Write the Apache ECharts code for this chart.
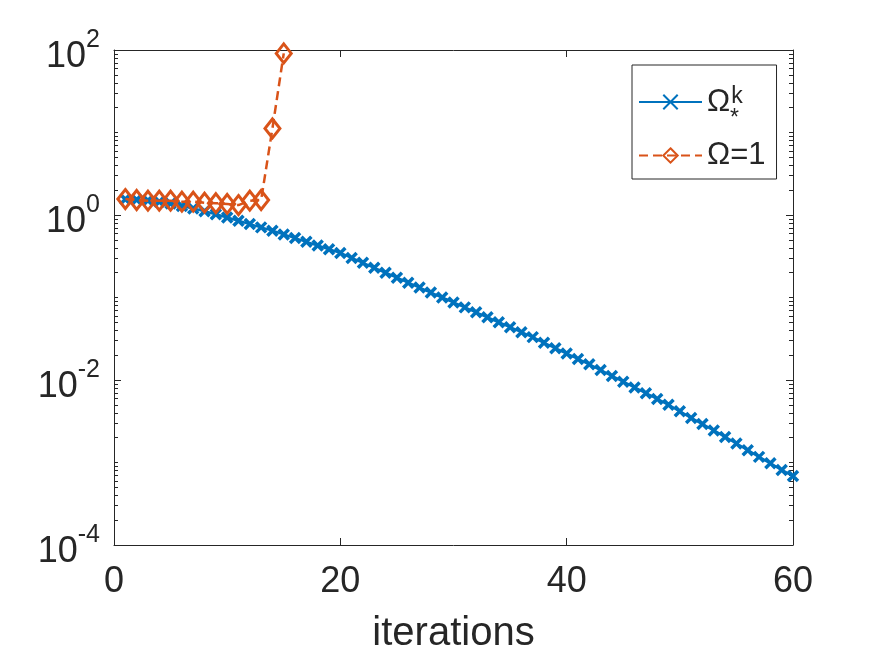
<!DOCTYPE html>
<html>
<head>
<meta charset="utf-8">
<script src="https://cdn.jsdelivr.net/npm/echarts@6/dist/echarts.min.js"></script>
<style>
  html, body { margin: 0; padding: 0; background: #fff; }
  #chart { width: 875px; height: 659px; }
</style>
</head>
<body>
<div id="chart"></div>
<script>
// iterations k = 1..60
var iters = []
for (var i = 1; i <= 60; i++) iters.push(i)

// Omega_*^k
var optVals = [
  1.549, 1.531, 1.496, 1.445, 1.380, 1.288, 1.202, 1.109, 1.023, 0.933,
  0.851, 0.776, 0.708, 0.646, 0.582, 0.525, 0.473, 0.427, 0.385, 0.347,
  0.302, 0.263, 0.229, 0.1995, 0.1738, 0.1514, 0.1318, 0.1148, 0.100, 0.0871,
  0.0759, 0.0661, 0.0575, 0.0501, 0.0437, 0.0380, 0.0331, 0.0282, 0.0243, 0.0209,
  0.0180, 0.0155, 0.0132, 0.0112, 0.00955, 0.00813, 0.00692, 0.00589, 0.00501, 0.00417,
  0.00347, 0.00292, 0.00245, 0.00204, 0.00170, 0.00141, 0.00117, 0.000977, 0.000813, 0.000684
]

// Omega = 1 (diverges)
var oneVals = [
  1.56, 1.52, 1.49, 1.49, 1.49, 1.45, 1.45, 1.41, 1.39, 1.36,
  1.32, 1.49, 1.52, 11.2, 91
]

var xTicks = [0, 20, 40, 60]
var yMajor = [1e-4, 1e-2, 1, 1e2]
var yMinor = []
for (var e = -4; e < 2; e++) {
  for (var m = 1; m <= 9; m++) yMinor.push(m * Math.pow(10, e))
}
yMinor.push(100)

var font = 'Liberation Sans, Arial, Helvetica, sans-serif'
var ink = '#262626'
var blue = '#0072BD'
var red = '#D95319'

var chart = echarts.init(document.getElementById('chart'))

function yAx(pos, ticks, len, labels, line) {
  return {
    type: 'log',
    logBase: 10,
    min: 1e-4,
    max: 1e2,
    position: pos,
    axisLine: { show: line, lineStyle: { color: ink, width: 1 } },
    axisTick: { show: true, inside: true, length: len, customValues: ticks, lineStyle: { color: ink, width: 1 } },
    splitLine: { show: false },
    axisLabel: labels ? {
      show: true,
      customValues: yMajor,
      margin: 14,
      formatter: function (v) {
        var p = Math.round(Math.log(v) / Math.LN10)
        return '{b|10}{e|' + p + '}'
      },
      rich: {
        b: { fontSize: 36, fontFamily: font, color: ink, padding: [15, 0, 0, 0] },
        e: { fontSize: 25, fontFamily: font, color: ink, padding: [0, 0, 19, 0] }
      }
    } : { show: false }
  }
}

function xAx(pos, labels) {
  return {
    type: 'value',
    min: 0,
    max: 60,
    interval: 20,
    position: pos,
    name: labels ? 'iterations' : '',
    nameLocation: 'middle',
    nameGap: 69,
    nameTextStyle: { fontSize: 40, fontFamily: font, color: ink },
    axisLine: { show: true, onZero: false, lineStyle: { color: ink, width: 1 } },
    axisTick: { show: true, inside: true, length: 7, lineStyle: { color: ink, width: 1 } },
    splitLine: { show: false },
    axisLabel: labels ? {
      show: true, margin: 19, fontSize: 36, fontFamily: font, color: ink,
      customValues: xTicks
    } : { show: false }
  }
}

chart.setOption({
  animation: false,
  backgroundColor: '#fff',
  grid: { left: 114, right: 82, top: 50, bottom: 114, containLabel: false },
  xAxis: [xAx('bottom', true), xAx('top', false)],
  yAxis: [
    yAx('left', yMajor, 7, true, true),
    yAx('left', yMinor, 4, false, false),
    yAx('right', yMajor, 7, false, true),
    yAx('right', yMinor, 4, false, false)
  ],
  legend: {
    left: 632,
    top: 65,
    orient: 'vertical',
    backgroundColor: '#fff',
    borderColor: ink,
    borderWidth: 1,
    borderRadius: 0,
    padding: [20, 11, 8, 6],
    itemGap: 21,
    itemWidth: 63,
    itemHeight: 18,
    formatter: function (name) {
      return name === 'opt' ? '{t|Ω}{s|k}' : '{t|Ω=1}'
    },
    textStyle: {
      rich: {
        t: { fontSize: 31, fontFamily: font, color: ink, lineHeight: 34 },
        s: { fontSize: 23, fontFamily: font, color: ink, lineHeight: 23, padding: [0, 0, 11, 1] }
      }
    },
    data: ['opt', 'one']
  },
  graphic: [{
    type: 'text',
    left: 730,
    top: 107,
    z: 100,
    style: { text: '*', fontSize: 23, fontFamily: font, fill: ink }
  }],
  series: [
    {
      name: 'opt',
      type: 'line',
      data: iters.map(function (k, i) { return [k, optVals[i]] }),
      symbol: 'path://M0,0L10,10M10,0L0,10',
      symbolSize: 10,
      showAllSymbol: true,
      lineStyle: { color: blue, width: 2.5 },
      itemStyle: { color: blue, borderColor: blue, borderWidth: 3.5 },
      z: 3
    },
    {
      name: 'one',
      type: 'line',
      data: oneVals.map(function (v, i) { return [iters[i], v] }),
      symbol: 'diamond',
      symbolSize: [15, 19],
      showAllSymbol: true,
      lineStyle: { color: red, width: 2.5, type: [9, 5] },
      itemStyle: { color: 'rgba(255,255,255,0)', borderColor: red, borderWidth: 3 },
      z: 4
    }
  ]
})
</script>
</body>
</html>
